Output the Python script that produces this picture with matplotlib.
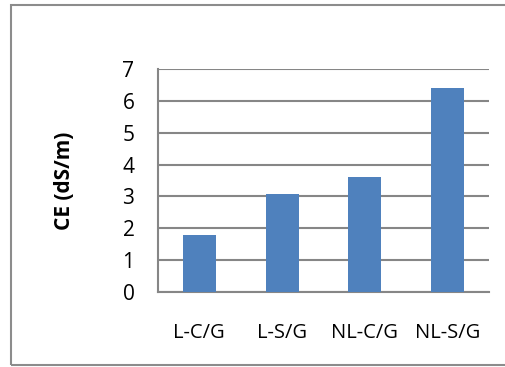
import matplotlib
matplotlib.use("Agg")
import matplotlib.pyplot as plt
from matplotlib.patches import Rectangle

categories = ["L-C/G", "L-S/G", "NL-C/G", "NL-S/G"]
ce_values = [1.8, 3.08, 3.6, 6.4]
y_ticks = [0, 1, 2, 3, 4, 5, 6, 7]
y_label = "CE (dS/m)"

plt.rcParams["font.family"] = ["Open Sans", "DejaVu Sans"]

W, H = 506, 367
fig = plt.figure(figsize=(W / 100, H / 100), dpi=100)
fig.patch.set_facecolor("white")

# chart-area frame
frame = Rectangle((11 / W, 1 - 365 / H), (W + 10) / W, (365 - 5) / H,
                  transform=fig.transFigure, fill=False,
                  edgecolor="#8c8c8c", linewidth=1.5, clip_on=False)
fig.patches.append(frame)

ax = fig.add_axes([158 / W, 1 - 292 / H, (489 - 158) / W, (292 - 69) / H])
x = range(len(categories))
ax.bar(x, ce_values, width=0.4, color="#4f81bd", zorder=3)

ax.set_xlim(-0.5, len(categories) - 0.5)
ax.set_ylim(0, 7)
ax.set_yticks(y_ticks)
ax.set_yticklabels([str(t) for t in y_ticks], fontsize=15)
ax.set_xticks(list(x))
ax.set_xticklabels(categories, fontsize=14.5)
ax.tick_params(axis="both", length=0, colors="black")
ax.tick_params(axis="y", pad=17)
ax.tick_params(axis="x", pad=22)

ax.grid(axis="y", color="#868686", linewidth=1.5, zorder=0)
for side in ("top", "right"):
    ax.spines[side].set_visible(False)
for side in ("left", "bottom"):
    ax.spines[side].set_color("#868686")
    ax.spines[side].set_linewidth(1.5)

ax.set_ylabel(y_label, fontsize=15, fontweight="bold", labelpad=34)

fig.savefig("out.png", dpi=100)
